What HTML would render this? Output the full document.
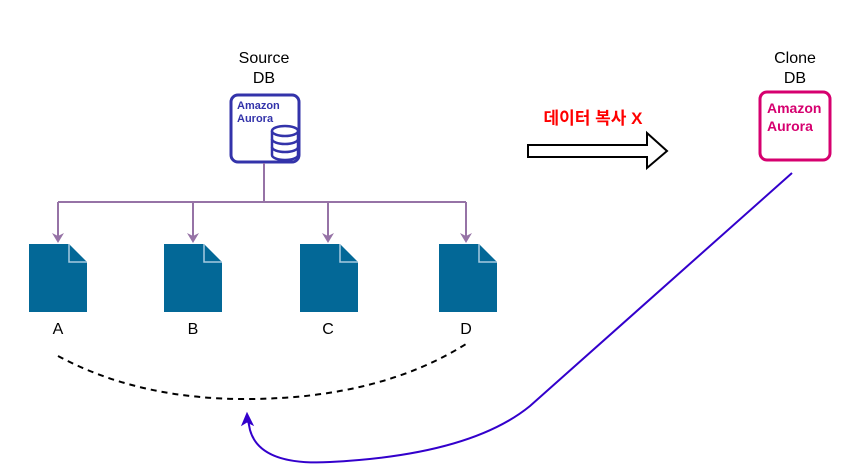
<!DOCTYPE html>
<html><head><meta charset="utf-8"><style>
html,body{margin:0;padding:0;background:#fff;width:866px;height:474px;overflow:hidden}
svg{display:block}
text{font-family:"Liberation Sans","Noto Sans CJK KR",sans-serif}
</style></head><body>
<svg width="866" height="474" viewBox="0 0 866 474" xmlns="http://www.w3.org/2000/svg">
<defs>
<marker id="pa" markerWidth="10" markerHeight="10" refX="5" refY="8" orient="auto" markerUnits="userSpaceOnUse">
</marker>
</defs>
<!-- source labels -->
<text x="264" y="63" font-size="16" text-anchor="middle" fill="#000">Source</text>
<text x="264" y="83" font-size="16" text-anchor="middle" fill="#000">DB</text>
<rect x="231" y="95" width="68" height="67" rx="7" fill="#fff" stroke="#3333aa" stroke-width="3"/>
<text x="237" y="109" font-size="11" font-weight="bold" fill="#3333aa">Amazon</text>
<text x="237" y="122" font-size="11" font-weight="bold" fill="#3333aa">Aurora</text>
<g fill="#fff" stroke="#3333aa" stroke-width="2.5">
<path d="M272 131 v24 a13 5 0 0 0 26 0 v-24"/>
<ellipse cx="285" cy="131" rx="13" ry="5"/>
<path d="M272 139 a13 5 0 0 0 26 0 M272 147 a13 5 0 0 0 26 0" fill="none"/>
</g>
<!-- tree -->
<g stroke="#9673a6" stroke-width="2" fill="none">
<path d="M264 163 V202 M58 202 H466 M58 202 V236 M193 202 V236 M328 202 V236 M466 202 V236"/>
</g>
<g fill="#9673a6">
<path d="M52 233 L58 243 L64 233 L58 236 Z"/>
<path d="M187 233 L193 243 L199 233 L193 236 Z"/>
<path d="M322 233 L328 243 L334 233 L328 236 Z"/>
<path d="M460 233 L466 243 L472 233 L466 236 Z"/>
</g>
<!-- docs -->
<g id="d">
<path d="M29 244 H69 L87 262 V312 H29 Z" fill="#036897"/>
<path d="M69 244 V262 H87" fill="none" stroke="#a8cbe0" stroke-width="1.5"/>
</g>
<use href="#d" x="135"/><use href="#d" x="271"/><use href="#d" x="410"/>
<g font-size="16" text-anchor="middle" fill="#000">
<text x="58" y="334">A</text><text x="193" y="334">B</text><text x="328" y="334">C</text><text x="466" y="334">D</text>
</g>
<!-- dashed curve -->
<path d="M58 356 Q140 400 250 399 Q380 398 466 344" fill="none" stroke="#000" stroke-width="2" stroke-dasharray="6 5"/>
<!-- middle -->
<text x="593" y="124" font-size="17" font-weight="bold" text-anchor="middle" fill="#ff0000">데이터 복사 X</text>
<path d="M528 145 H647 V133 L667 151 L647 168 V157 H528 Z" fill="#fff" stroke="#000" stroke-width="2"/>
<!-- clone -->
<text x="795" y="63" font-size="16" text-anchor="middle" fill="#000">Clone</text>
<text x="795" y="83" font-size="16" text-anchor="middle" fill="#000">DB</text>
<rect x="760" y="92" width="70" height="68" rx="7" fill="#fff" stroke="#d6006f" stroke-width="3"/>
<text x="767" y="113" font-size="14" font-weight="bold" fill="#d6006f">Amazon</text>
<text x="767" y="131" font-size="14" font-weight="bold" fill="#d6006f">Aurora</text>
<!-- purple curve -->
<path d="M792 173 L530 406 Q470 455 330 462 Q260 466 250 430 L248 420" fill="none" stroke="#3300cc" stroke-width="2"/>
<path d="M242 425 L247 413 L253 425 L247 422 Z" fill="#3300cc" stroke="#3300cc" stroke-width="1"/>
</svg>
</body></html>
